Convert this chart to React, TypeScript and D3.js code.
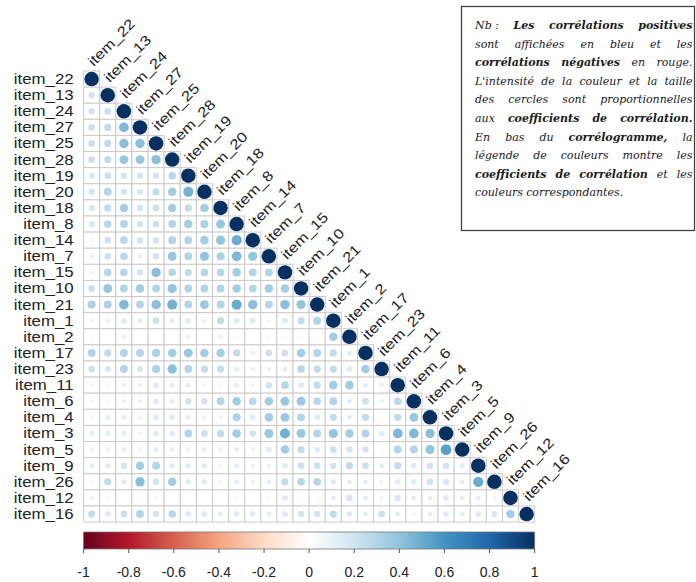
import React, { useEffect, useRef } from "react";
import * as d3 from "d3";

const items = [
  "item_22", "item_13", "item_24", "item_27", "item_25", "item_28", "item_19",
  "item_20", "item_18", "item_8", "item_14", "item_7", "item_15", "item_10",
  "item_21", "item_1", "item_2", "item_17", "item_23", "item_11", "item_6",
  "item_4", "item_3", "item_5", "item_9", "item_26", "item_12", "item_16",
];

// lower-triangle correlations: row i holds columns 0..i-1 (diagonal = 1)
const row_item_22: number[] = [];
const row_item_13 = [0.2];
const row_item_24 = [0.2, 0.22];
const row_item_27 = [0.22, 0.25, 0.45];
const row_item_25 = [0.22, 0.25, 0.42, 0.42];
const row_item_28 = [0.22, 0.25, 0.38, 0.38, 0.42];
const row_item_19 = [0.18, 0.22, 0.2, 0.2, 0.2, 0.28];
const row_item_20 = [0.2, 0.3, 0.2, 0.18, 0.25, 0.35, 0.48];
const row_item_18 = [0.18, 0.25, 0.35, 0.2, 0.22, 0.35, 0.25, 0.35];
const row_item_8 = [0.18, 0.28, 0.3, 0.2, 0.22, 0.3, 0.35, 0.32, 0.38];
const row_item_14 = [0.08, 0.22, 0.28, 0.2, 0.2, 0.3, 0.3, 0.35, 0.4, 0.5];
const row_item_7 = [0.1, 0.22, 0.28, 0.12, 0.2, 0.38, 0.3, 0.4, 0.32, 0.45, 0.4];
const row_item_15 = [0.08, 0.28, 0.28, 0.2, 0.42, 0.28, 0.25, 0.28, 0.28, 0.35, 0.3, 0.3];
const row_item_10 = [0.22, 0.38, 0.3, 0.35, 0.3, 0.4, 0.3, 0.3, 0.3, 0.35, 0.3, 0.35, 0.35];
const row_item_21 = [0.32, 0.32, 0.45, 0.3, 0.42, 0.48, 0.3, 0.38, 0.3, 0.5, 0.42, 0.3, 0.42, 0.4];
const row_item_1 = [0.08, 0.1, 0.15, 0.12, 0.22, 0.12, 0.15, 0.1, 0.25, 0.15, 0.15, 0.08, 0.15, 0.25, 0.3];
const row_item_2 = [0.05, 0, 0.1, 0.02, 0.03, 0.03, 0.1, 0.02, 0.1, 0.05, 0.02, 0.05, 0.05, 0.06, 0.05, 0.35];
const row_item_17 = [0.3, 0.25, 0.3, 0.3, 0.32, 0.35, 0.38, 0.35, 0.35, 0.25, 0.1, 0.22, 0.22, 0.35, 0.3, 0.25, 0.12];
const row_item_23 = [0.22, 0.18, 0.3, 0.18, 0.32, 0.42, 0.3, 0.25, 0.25, 0.12, 0.1, 0.1, 0.12, 0.28, 0.25, 0.25, 0.15, 0.35];
const row_item_11 = [0.08, 0.05, 0.1, 0.1, 0.15, 0.12, 0.12, 0.08, 0.05, 0.12, 0.08, 0.2, 0.28, 0.15, 0.25, 0.35, 0.35, 0.12, 0.1];
const row_item_6 = [0.08, 0.05, 0.1, 0.1, 0.15, 0.12, 0.2, 0.2, 0.3, 0.35, 0.28, 0.35, 0.38, 0.38, 0.28, 0.3, 0.12, 0.22, 0.1, 0.28];
const row_item_4 = [0.08, 0.12, 0.12, 0.1, 0.15, 0.15, 0.12, 0.1, 0.08, 0.32, 0.15, 0.35, 0.38, 0.3, 0.15, 0.25, 0.12, 0.25, 0, 0.25, 0.38];
const row_item_3 = [0.12, 0.12, 0.12, 0.08, 0.15, 0.15, 0.3, 0.22, 0.25, 0.35, 0.2, 0.38, 0.48, 0.38, 0.3, 0.4, 0.35, 0.3, 0.15, 0.45, 0.45, 0.42];
const row_item_5 = [0.1, 0.1, 0.12, 0.08, 0.12, 0.12, 0.1, 0.12, 0.1, 0.12, 0.08, 0.15, 0.35, 0.25, 0.15, 0.22, 0.2, 0.2, 0.05, 0.3, 0.3, 0.4, 0.55];
const row_item_9 = [0.12, 0.15, 0.2, 0.35, 0.3, 0.15, 0.15, 0.15, 0.08, 0.12, 0.1, 0.1, 0.15, 0.22, 0.22, 0.2, 0.25, 0.22, 0.12, 0.25, 0.15, 0.2, 0.2, 0.12];
const row_item_26 = [0.05, 0.25, 0.15, 0.42, 0.2, 0.35, 0.15, 0.15, 0.08, 0.12, 0.1, 0.12, 0.25, 0.28, 0.28, 0.15, 0.12, 0.12, 0.08, 0.15, 0.15, 0.2, 0.18, 0.12, 0.5];
const row_item_12 = [0.1, 0.05, 0.03, 0.05, 0.08, 0.02, 0, 0, 0.02, 0.05, 0.03, 0.05, 0.15, 0.05, 0.05, 0.12, 0.2, 0.12, 0.08, 0.18, 0.12, 0.12, 0.15, 0.12, 0.12, 0.08];
const row_item_16 = [0.25, 0.15, 0.22, 0.3, 0.2, 0.28, 0.15, 0.15, 0.12, 0.15, 0.15, 0.12, 0.15, 0.2, 0.2, 0.25, 0.15, 0.12, 0.22, 0.12, 0.08, 0.12, 0.15, 0.12, 0.15, 0.18, 0.35];

const corrRows = [
  row_item_22, row_item_13, row_item_24, row_item_27, row_item_25, row_item_28,
  row_item_19, row_item_20, row_item_18, row_item_8, row_item_14, row_item_7,
  row_item_15, row_item_10, row_item_21, row_item_1, row_item_2, row_item_17,
  row_item_23, row_item_11, row_item_6, row_item_4, row_item_3, row_item_5,
  row_item_9, row_item_26, row_item_12, row_item_16,
];

const paletteColors = [
  "#67001F", "#B2182B", "#D6604D", "#F4A582", "#FDDBC7", "#FFFFFF",
  "#D1E5F0", "#92C5DE", "#4393C3", "#2166AC", "#053061",
];
const colorTicks = [-1, -0.8, -0.6, -0.4, -0.2, 0, 0.2, 0.4, 0.6, 0.8, 1];
const tickLabels = ["-1", "-0.8", "-0.6", "-0.4", "-0.2", "0", "0.2", "0.4", "0.6", "0.8", "1"];

// note text: [text, bold]
const noteLines: [string, boolean][][] = [
  [["Nb\u00A0:", false], ["Les corrélations positives", true]],
  [["sont affichées en bleu et les", false]],
  [["corrélations négatives", true], ["en rouge.", false]],
  [["L'intensité de la couleur et la taille", false]],
  [["des cercles sont proportionnelles", false]],
  [["aux", false], ["coefficients de corrélation.", true]],
  [["En bas du", false], ["corrélogramme,", true], ["la", false]],
  [["légende de couleurs montre les", false]],
  [["coefficients de corrélation", true], ["et les", false]],
  [["couleurs correspondantes.", false]],
];

const W = 696;
const H = 582;
const gridLeft = 83.6;
const gridTop = 71;
const cell = 16.11;
const labelFont = "'Liberation Sans', Arial, sans-serif";
const noteFont = "'DejaVu Serif', serif";
const labelSize = 14;
const labelStretch = 1.2;

export default function App() {
  const n = items.length;
  const x = d3.scaleBand<string>().domain(items).range([gridLeft, gridLeft + n * cell]);
  const y = d3.scaleBand<string>().domain(items).range([gridTop, gridTop + n * cell]);
  const color = d3
    .scaleLinear<string>()
    .domain(paletteColors.map((_, i) => -1 + i * 0.2))
    .range(paletteColors)
    .interpolate(d3.interpolateRgb);
  const radius = (v: number) => 0.45 * cell * Math.sqrt(Math.abs(v));
  const barScale = d3.scaleLinear().domain([-1, 1]).range([gridLeft, gridLeft + n * cell]);
  const barTop = 532;
  const barH = 17;

  const cells: { r: string; c: string; v: number }[] = [];
  items.forEach((r, i) => {
    for (let j = 0; j <= i; j++) {
      cells.push({ r, c: items[j], v: j === i ? 1 : corrRows[i][j] });
    }
  });

  const noteRef = useRef<SVGGElement>(null);
  useEffect(() => {
    const root = d3.select(noteRef.current);
    root.selectAll("*").remove();
    const left = 475;
    const right = 692.5;
    const top = 29;
    const lh = 18.6;
    const fs = 11;
    const words = noteLines.map((line) =>
      line.flatMap(([txt, b]) => txt.split(" ").map((w) => ({ w, b })))
    );
    const g = root.append("g");
    const widths = words.map((line) =>
      line.map(({ w, b }) => {
        const t = g
          .append("text")
          .attr("font-size", fs)
          .attr("font-family", noteFont)
          .attr("font-style", "italic")
          .attr("font-weight", b ? "bold" : "normal")
          .text(w);
        const len = (t.node() as SVGTextElement).getComputedTextLength();
        t.remove();
        return len;
      })
    );
    const avail = right - left;
    const minGap = 3;
    let s = 1;
    widths.forEach((ws, i) => {
      if (i === words.length - 1) return;
      const sum = d3.sum(ws);
      if (sum * s + (ws.length - 1) * minGap > avail) {
        s = Math.min(s, (avail - (ws.length - 1) * minGap) / sum);
      }
    });
    g.attr("transform", `translate(${left},0) scale(${s},1)`);
    words.forEach((line, i) => {
      const ws = widths[i].map((w) => w * s);
      const last = i === words.length - 1;
      const gap = last ? fs * 0.3 : (avail - d3.sum(ws)) / Math.max(1, ws.length - 1);
      let cx = 0;
      line.forEach((wd, k) => {
        g.append("text")
          .attr("x", cx / s)
          .attr("y", top + i * lh)
          .attr("font-size", fs)
          .attr("font-family", noteFont)
          .attr("font-style", "italic")
          .attr("font-weight", wd.b ? "bold" : "normal")
          .attr("fill", "#1a1a1a")
          .text(wd.w);
        cx += ws[k] + gap;
      });
    });
  }, []);

  return (
    <div style={{ position: "fixed", left: 0, top: 0, width: W, height: H, background: "#fff" }}>
      <svg width={W} height={H} style={{ display: "block" }}>
        <defs>
          <linearGradient id="corrGrad" x1="0" x2="1" y1="0" y2="0">
            {paletteColors.map((c, i) => (
              <stop key={i} offset={`${(i / (paletteColors.length - 1)) * 100}%`} stopColor={c} />
            ))}
          </linearGradient>
        </defs>
        <rect x={0} y={0} width={W} height={H} fill="#fff" />

        {/* grid cells */}
        <g>
          {cells.map((d, k) => (
            <rect
              key={`g${k}`}
              x={x(d.c)}
              y={y(d.r)}
              width={cell}
              height={cell}
              fill="#fff"
              stroke="#cfcaca"
              strokeWidth={1}
            />
          ))}
        </g>
        {/* circles */}
        <g>
          {cells.map((d, k) => (
            <circle
              key={`c${k}`}
              cx={(x(d.c) as number) + cell / 2}
              cy={(y(d.r) as number) + cell / 2}
              r={radius(d.v)}
              fill={color(d.v)}
            />
          ))}
        </g>

        {/* row labels */}
        <g fontFamily={labelFont} fontSize={labelSize} fill="#222">
          {items.map((it) => (
            <text
              key={it}
              transform={`translate(${gridLeft - 10},${(y(it) as number) + cell / 2}) scale(${labelStretch},1)`}
              textAnchor="end"
              dominantBaseline="central"
            >
              {it}
            </text>
          ))}
        </g>
        {/* column labels */}
        <g fontFamily={labelFont} fontSize={labelSize} fill="#222">
          {items.map((it) => {
            const ax = (x(it) as number) + cell / 2 + 2;
            const ay = (y(it) as number) - 4;
            return (
              <text
                key={it}
                transform={`translate(${ax},${ay}) rotate(-45) scale(${labelStretch},1)`}
                textAnchor="start"
              >
                {it}
              </text>
            );
          })}
        </g>

        {/* color legend */}
        <rect
          x={barScale(-1)}
          y={barTop}
          width={barScale(1) - barScale(-1)}
          height={barH}
          fill="url(#corrGrad)"
          stroke="#777"
          strokeWidth={0.8}
        />
        <g fontFamily={labelFont} fontSize={14} fill="#222">
          {colorTicks.map((t, i) => (
            <g key={t}>
              <line
                x1={barScale(t)}
                x2={barScale(t)}
                y1={barTop + barH}
                y2={barTop + barH + 4}
                stroke="#555"
                strokeWidth={1}
              />
              <text x={barScale(t)} y={577} textAnchor="middle">
                {tickLabels[i]}
              </text>
            </g>
          ))}
        </g>

        {/* note box */}
        <rect x={461.5} y={6.5} width={233} height={224} fill="#fff" stroke="#444" strokeWidth={1.3} />
        <g ref={noteRef} />
      </svg>
    </div>
  );
}
